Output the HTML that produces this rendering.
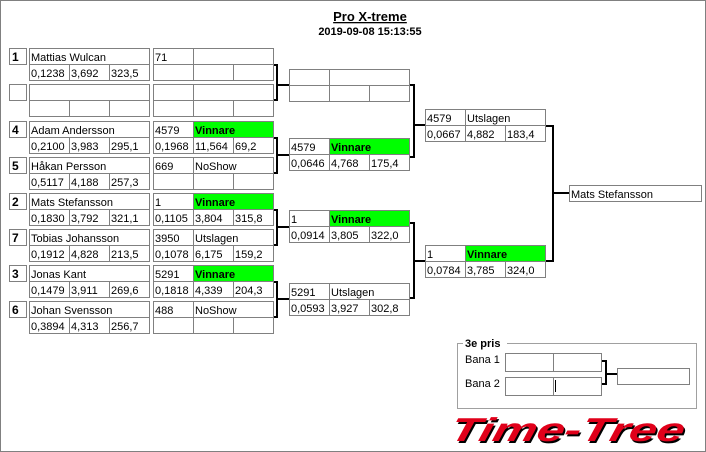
<!DOCTYPE html>
<html><head><meta charset="utf-8"><style>
html,body{margin:0;padding:0;background:#fff;width:706px;height:452px;overflow:hidden}
svg{display:block}
text{font-family:"Liberation Sans",sans-serif;font-size:11px;fill:#000}
.b{font-weight:bold}
rect.c{fill:#fff;stroke:#808080;stroke-width:1}
rect.g{fill:#00ff00;stroke:#808080;stroke-width:1}
path.k{fill:none;stroke:#000;stroke-width:2}
</style></head><body>
<svg width="706" height="452" viewBox="0 0 706 452">
<rect x="0.5" y="0.5" width="705" height="451" fill="#fff" stroke="#808080"/>
<text x="370" y="21" text-anchor="middle" class="b" style="font-size:13px;text-decoration:underline">Pro X-treme</text>
<text x="370" y="35" text-anchor="middle" class="b">2019-09-08 15:13:55</text>

<g>
<rect class="c" x="9.5" y="48.5" width="17" height="16"/><text x="12" y="61" class="b" style="font-size:12px">1</text>
<rect class="c" x="29.5" y="48.5" width="120" height="16"/><text x="31" y="61">Mattias Wulcan</text>
<rect class="c" x="29.5" y="64.5" width="40" height="16"/><rect class="c" x="69.5" y="64.5" width="40" height="16"/><rect class="c" x="109.5" y="64.5" width="40" height="16"/>
<text x="31" y="77">0,1238</text><text x="71" y="77">3,692</text><text x="111" y="77">323,5</text>
<rect class="c" x="153.5" y="48.5" width="40" height="16"/><rect class="c" x="193.5" y="48.5" width="80" height="16"/><text x="155" y="61">71</text>
<rect class="c" x="153.5" y="64.5" width="40" height="16"/><rect class="c" x="193.5" y="64.5" width="40" height="16"/><rect class="c" x="233.5" y="64.5" width="40" height="16"/>

<rect class="c" x="9.5" y="84.5" width="17" height="16"/>
<rect class="c" x="29.5" y="84.5" width="120" height="16"/>
<rect class="c" x="29.5" y="100.5" width="40" height="16"/><rect class="c" x="69.5" y="100.5" width="40" height="16"/><rect class="c" x="109.5" y="100.5" width="40" height="16"/>
<rect class="c" x="153.5" y="84.5" width="40" height="16"/><rect class="c" x="193.5" y="84.5" width="80" height="16"/>
<rect class="c" x="153.5" y="100.5" width="40" height="16"/><rect class="c" x="193.5" y="100.5" width="40" height="16"/><rect class="c" x="233.5" y="100.5" width="40" height="16"/>

<rect class="c" x="9.5" y="121.5" width="17" height="16"/><text x="12" y="134" class="b" style="font-size:12px">4</text>
<rect class="c" x="29.5" y="121.5" width="120" height="16"/><text x="31" y="134">Adam Andersson</text>
<rect class="c" x="29.5" y="137.5" width="40" height="16"/><rect class="c" x="69.5" y="137.5" width="40" height="16"/><rect class="c" x="109.5" y="137.5" width="40" height="16"/>
<text x="31" y="150">0,2100</text><text x="71" y="150">3,983</text><text x="111" y="150">295,1</text>
<rect class="c" x="153.5" y="121.5" width="40" height="16"/><rect class="g" x="193.5" y="121.5" width="80" height="16"/><text x="155" y="134">4579</text><text x="195" y="134" class="b">Vinnare</text>
<rect class="c" x="153.5" y="137.5" width="40" height="16"/><rect class="c" x="193.5" y="137.5" width="40" height="16"/><rect class="c" x="233.5" y="137.5" width="40" height="16"/>
<text x="155" y="150">0,1968</text><text x="195" y="150">11,564</text><text x="235" y="150">69,2</text>

<rect class="c" x="9.5" y="157.5" width="17" height="16"/><text x="12" y="170" class="b" style="font-size:12px">5</text>
<rect class="c" x="29.5" y="157.5" width="120" height="16"/><text x="31" y="170">Håkan Persson</text>
<rect class="c" x="29.5" y="173.5" width="40" height="16"/><rect class="c" x="69.5" y="173.5" width="40" height="16"/><rect class="c" x="109.5" y="173.5" width="40" height="16"/>
<text x="31" y="186">0,5117</text><text x="71" y="186">4,188</text><text x="111" y="186">257,3</text>
<rect class="c" x="153.5" y="157.5" width="40" height="16"/><rect class="c" x="193.5" y="157.5" width="80" height="16"/><text x="155" y="170">669</text><text x="195" y="170">NoShow</text>
<rect class="c" x="153.5" y="173.5" width="40" height="16"/><rect class="c" x="193.5" y="173.5" width="40" height="16"/><rect class="c" x="233.5" y="173.5" width="40" height="16"/>

<rect class="c" x="9.5" y="193.5" width="17" height="16"/><text x="12" y="206" class="b" style="font-size:12px">2</text>
<rect class="c" x="29.5" y="193.5" width="120" height="16"/><text x="31" y="206">Mats Stefansson</text>
<rect class="c" x="29.5" y="209.5" width="40" height="16"/><rect class="c" x="69.5" y="209.5" width="40" height="16"/><rect class="c" x="109.5" y="209.5" width="40" height="16"/>
<text x="31" y="222">0,1830</text><text x="71" y="222">3,792</text><text x="111" y="222">321,1</text>
<rect class="c" x="153.5" y="193.5" width="40" height="16"/><rect class="g" x="193.5" y="193.5" width="80" height="16"/><text x="155" y="206">1</text><text x="195" y="206" class="b">Vinnare</text>
<rect class="c" x="153.5" y="209.5" width="40" height="16"/><rect class="c" x="193.5" y="209.5" width="40" height="16"/><rect class="c" x="233.5" y="209.5" width="40" height="16"/>
<text x="155" y="222">0,1105</text><text x="195" y="222">3,804</text><text x="235" y="222">315,8</text>

<rect class="c" x="9.5" y="229.5" width="17" height="16"/><text x="12" y="242" class="b" style="font-size:12px">7</text>
<rect class="c" x="29.5" y="229.5" width="120" height="16"/><text x="31" y="242">Tobias Johansson</text>
<rect class="c" x="29.5" y="245.5" width="40" height="16"/><rect class="c" x="69.5" y="245.5" width="40" height="16"/><rect class="c" x="109.5" y="245.5" width="40" height="16"/>
<text x="31" y="258">0,1912</text><text x="71" y="258">4,828</text><text x="111" y="258">213,5</text>
<rect class="c" x="153.5" y="229.5" width="40" height="16"/><rect class="c" x="193.5" y="229.5" width="80" height="16"/><text x="155" y="242">3950</text><text x="195" y="242">Utslagen</text>
<rect class="c" x="153.5" y="245.5" width="40" height="16"/><rect class="c" x="193.5" y="245.5" width="40" height="16"/><rect class="c" x="233.5" y="245.5" width="40" height="16"/>
<text x="155" y="258">0,1078</text><text x="195" y="258">6,175</text><text x="235" y="258">159,2</text>

<rect class="c" x="9.5" y="265.5" width="17" height="16"/><text x="12" y="278" class="b" style="font-size:12px">3</text>
<rect class="c" x="29.5" y="265.5" width="120" height="16"/><text x="31" y="278">Jonas Kant</text>
<rect class="c" x="29.5" y="281.5" width="40" height="16"/><rect class="c" x="69.5" y="281.5" width="40" height="16"/><rect class="c" x="109.5" y="281.5" width="40" height="16"/>
<text x="31" y="294">0,1479</text><text x="71" y="294">3,911</text><text x="111" y="294">269,6</text>
<rect class="c" x="153.5" y="265.5" width="40" height="16"/><rect class="g" x="193.5" y="265.5" width="80" height="16"/><text x="155" y="278">5291</text><text x="195" y="278" class="b">Vinnare</text>
<rect class="c" x="153.5" y="281.5" width="40" height="16"/><rect class="c" x="193.5" y="281.5" width="40" height="16"/><rect class="c" x="233.5" y="281.5" width="40" height="16"/>
<text x="155" y="294">0,1818</text><text x="195" y="294">4,339</text><text x="235" y="294">204,3</text>

<rect class="c" x="9.5" y="301.5" width="17" height="16"/><text x="12" y="314" class="b" style="font-size:12px">6</text>
<rect class="c" x="29.5" y="301.5" width="120" height="16"/><text x="31" y="314">Johan Svensson</text>
<rect class="c" x="29.5" y="317.5" width="40" height="16"/><rect class="c" x="69.5" y="317.5" width="40" height="16"/><rect class="c" x="109.5" y="317.5" width="40" height="16"/>
<text x="31" y="330">0,3894</text><text x="71" y="330">4,313</text><text x="111" y="330">256,7</text>
<rect class="c" x="153.5" y="301.5" width="40" height="16"/><rect class="c" x="193.5" y="301.5" width="80" height="16"/><text x="155" y="314">488</text><text x="195" y="314">NoShow</text>
<rect class="c" x="153.5" y="317.5" width="40" height="16"/><rect class="c" x="193.5" y="317.5" width="40" height="16"/><rect class="c" x="233.5" y="317.5" width="40" height="16"/>
</g>

<path class="k" d="M274 65H277V100H274M277 85H289"/>
<path class="k" d="M274 138H277V173H274M277 155H289"/>
<path class="k" d="M274 210H277V245H274M277 227H289"/>
<path class="k" d="M274 282H277V317H274M277 299H289"/>

<rect class="c" x="289.5" y="69.5" width="40" height="16"/><rect class="c" x="329.5" y="69.5" width="80" height="16"/>
<rect class="c" x="289.5" y="85.5" width="40" height="16"/><rect class="c" x="329.5" y="85.5" width="40" height="16"/><rect class="c" x="369.5" y="85.5" width="40" height="16"/>

<rect class="c" x="289.5" y="138.5" width="40" height="16"/><rect class="g" x="329.5" y="138.5" width="80" height="16"/><text x="291" y="151">4579</text><text x="331" y="151" class="b">Vinnare</text>
<rect class="c" x="289.5" y="154.5" width="40" height="16"/><rect class="c" x="329.5" y="154.5" width="40" height="16"/><rect class="c" x="369.5" y="154.5" width="40" height="16"/>
<text x="291" y="167">0,0646</text><text x="331" y="167">4,768</text><text x="371" y="167">175,4</text>

<rect class="c" x="289.5" y="210.5" width="40" height="16"/><rect class="g" x="329.5" y="210.5" width="80" height="16"/><text x="291" y="223">1</text><text x="331" y="223" class="b">Vinnare</text>
<rect class="c" x="289.5" y="226.5" width="40" height="16"/><rect class="c" x="329.5" y="226.5" width="40" height="16"/><rect class="c" x="369.5" y="226.5" width="40" height="16"/>
<text x="291" y="239">0,0914</text><text x="331" y="239">3,805</text><text x="371" y="239">322,0</text>

<rect class="c" x="289.5" y="283.5" width="40" height="16"/><rect class="c" x="329.5" y="283.5" width="80" height="16"/><text x="291" y="296">5291</text><text x="331" y="296">Utslagen</text>
<rect class="c" x="289.5" y="299.5" width="40" height="16"/><rect class="c" x="329.5" y="299.5" width="40" height="16"/><rect class="c" x="369.5" y="299.5" width="40" height="16"/>
<text x="291" y="312">0,0593</text><text x="331" y="312">3,927</text><text x="371" y="312">302,8</text>

<path class="k" d="M410 85H414V157H410M414 125H426"/>
<path class="k" d="M410 223H414V298H410M414 261H426"/>

<rect class="c" x="425.5" y="109.5" width="40" height="16"/><rect class="c" x="465.5" y="109.5" width="80" height="16"/><text x="427" y="122">4579</text><text x="467" y="122">Utslagen</text>
<rect class="c" x="425.5" y="125.5" width="40" height="16"/><rect class="c" x="465.5" y="125.5" width="40" height="16"/><rect class="c" x="505.5" y="125.5" width="40" height="16"/>
<text x="427" y="138">0,0667</text><text x="467" y="138">4,882</text><text x="507" y="138">183,4</text>

<rect class="c" x="425.5" y="245.5" width="40" height="16"/><rect class="g" x="465.5" y="245.5" width="80" height="16"/><text x="427" y="258">1</text><text x="467" y="258" class="b">Vinnare</text>
<rect class="c" x="425.5" y="261.5" width="40" height="16"/><rect class="c" x="465.5" y="261.5" width="40" height="16"/><rect class="c" x="505.5" y="261.5" width="40" height="16"/>
<text x="427" y="274">0,0784</text><text x="467" y="274">3,785</text><text x="507" y="274">324,0</text>

<path class="k" d="M546 126H553V261H546M553 193H569"/>

<rect class="c" x="569.5" y="185.5" width="132" height="16"/><text x="571" y="198">Mats Stefansson</text>

<rect x="457.5" y="343.5" width="239" height="65" fill="none" stroke="#a0a0a0"/>
<rect x="463" y="337" width="44" height="12" fill="#fff"/>
<text x="465" y="347" class="b">3e pris</text>
<text x="465" y="363">Bana 1</text>
<text x="465" y="387">Bana 2</text>
<rect class="c" x="505.5" y="353.5" width="48" height="18"/><rect class="c" x="553.5" y="353.5" width="48" height="18"/>
<rect class="c" x="505.5" y="377.5" width="48" height="18"/><rect class="c" x="553.5" y="377.5" width="48" height="18"/>
<line x1="555.5" y1="380" x2="555.5" y2="392" stroke="#000"/>
<path class="k" d="M602 361H606V384H602M606 374H617"/>
<rect class="c" x="617.5" y="368.5" width="72" height="16"/>

<g transform="skewX(-14)">
<text x="560" y="443" textLength="234" lengthAdjust="spacingAndGlyphs" style="font-family:'Liberation Sans',sans-serif;font-size:33px;font-weight:bold;font-style:italic;fill:#000">Time-Tree</text>
<text x="558" y="441" textLength="234" lengthAdjust="spacingAndGlyphs" style="font-family:'Liberation Sans',sans-serif;font-size:33px;font-weight:bold;font-style:italic;fill:#e0001a">Time-Tree</text>
</g>
</svg>
</body></html>
